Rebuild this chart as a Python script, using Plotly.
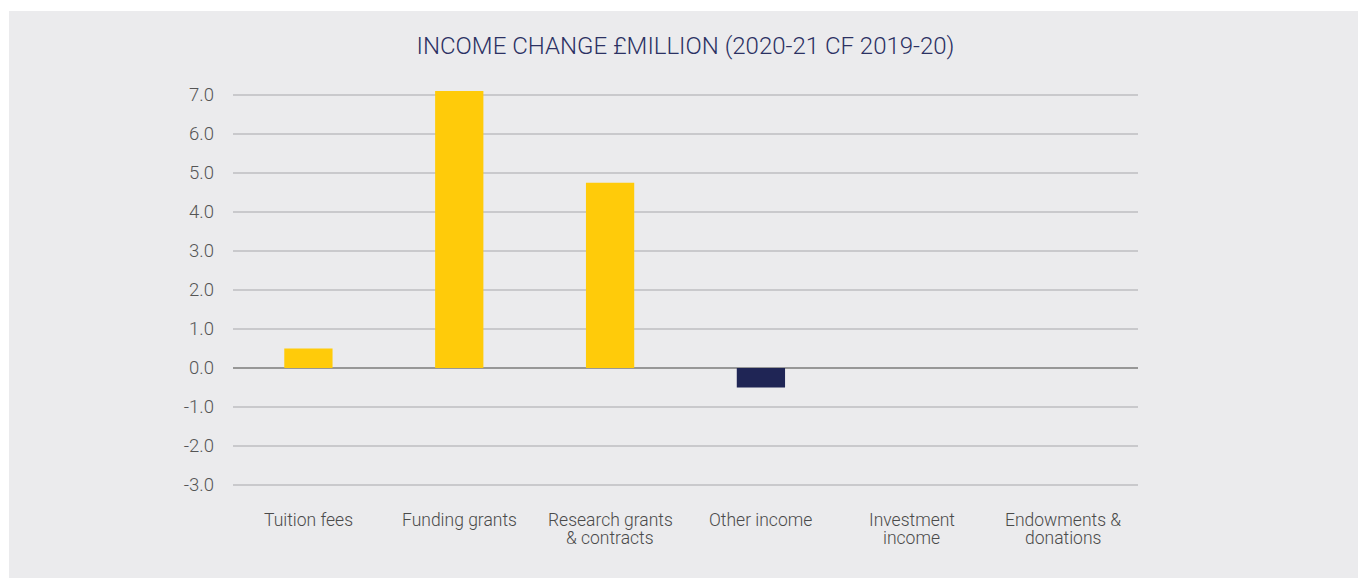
import plotly.graph_objects as go

categories = ["Tuition fees", "Funding grants", "Research grants<br>& contracts",
              "Other income", "Investment<br>income", "Endowments &<br>donations"]
values = [0.5, 7.1, 4.75, -0.5, 0.0, 0.0]
tick_vals = [-3, -2, -1, 0, 1, 2, 3, 4, 5, 6, 7]
tick_text = ["-3.0", "-2.0", "-1.0", "0.0", "1.0", "2.0", "3.0", "4.0", "5.0", "6.0", "7.0"]

YELLOW = "#ffcb0a"
NAVY = "#1f2555"
colors = [YELLOW if v >= 0 else NAVY for v in values]

W, H = 1358, 578
L, R, T, B = 233, 1358 - 1138, 80, 578 - 500
pw, ph = W - L - R, H - T - B
FONT = "Roboto"

fig = go.Figure(go.Bar(x=categories, y=values, marker=dict(color=colors, line=dict(width=0)),
                       width=0.32, hoverinfo="skip"))

fig.add_shape(type="rect", xref="paper", yref="paper", layer="below",
              x0=(9 - L) / pw, x1=(W + 2 - L) / pw,
              y0=(H - B - H - 2) / ph, y1=(H - B - 11) / ph,
              fillcolor="#ebebed", line=dict(width=0))

# category labels (one annotation per line for tight line spacing)
for cat in categories:
    for i, line in enumerate(cat.split("<br>")):
        fig.add_annotation(x=cat, y=0, xref="x", yref="paper", text=line, showarrow=False,
                           xanchor="center", yanchor="middle", yshift=-20 - 18 * i,
                           font=dict(family=FONT, size=17.5, color="#4a4a4a", weight=300))

fig.update_layout(
    width=W, height=H,
    margin=dict(l=L, r=R, t=T, b=B, pad=0),
    paper_bgcolor="white", plot_bgcolor="rgba(0,0,0,0)",
    showlegend=False,
    title=dict(text="INCOME CHANGE £MILLION (2020-21 CF 2019-20)", x=0.5, xref="paper",
               y=1 - 46 / H, yref="container", yanchor="middle", xanchor="center",
               font=dict(family=FONT, size=24, color="#2b3163", weight=300)),
    font=dict(family=FONT, color="#555555"),
)
fig.update_xaxes(showgrid=False, showline=False, zeroline=False, showticklabels=False)
fig.update_yaxes(range=[-3.385, 7.385], tickvals=tick_vals, ticktext=tick_text,
                 showgrid=True, gridcolor="#c9c9cc", gridwidth=1.5,
                 zeroline=True, zerolinecolor="#979797", zerolinewidth=2,
                 showline=False, ticklabelstandoff=18,
                 tickfont=dict(family=FONT, size=18.5, color="#555555", weight=300))

fig.write_html("out.html", config={"displayModeBar": False},
               post_script="document.body.style.margin='0';document.body.style.overflow='hidden';")
